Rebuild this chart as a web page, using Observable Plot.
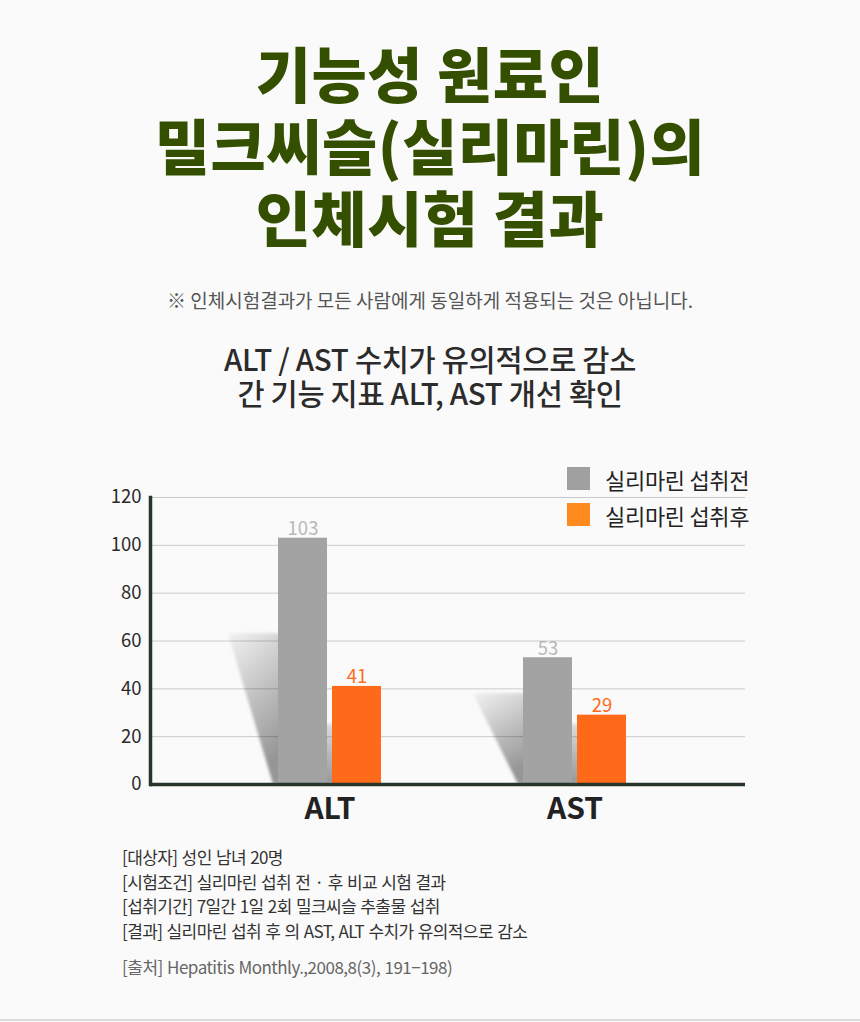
<!DOCTYPE html>
<html>
<head>
<meta charset="utf-8">
<script src="https://cdn.jsdelivr.net/npm/d3@7"></script>
<script src="https://cdn.jsdelivr.net/npm/@observablehq/plot@0.6"></script>
<style>
  body { margin: 0; background: #fafafa; }
  #page { position: relative; width: 860px; height: 1022px; overflow: hidden; background: #fafafa;
    font-family: "Noto Sans CJK KR", "Noto Sans", sans-serif; }
  #page .bottomline { position: absolute; left: 0; right: 0; top: 1019px; height: 2px; background: #dcdcdc; }
  .title { position: absolute; left: 0; width: 860px; top: 36px; text-align: center; font-size: 60px;
    line-height: 72px; font-weight: 900; color: #344f00; letter-spacing: 0.5px; }
  .notice { position: absolute; left: 0; width: 860px; top: 288px; text-align: center; font-size: 19px;
    line-height: 24px; color: #555; letter-spacing: 0px; }
  .sub { position: absolute; left: 0; width: 860px; top: 341px; text-align: center; font-size: 29.5px;
    line-height: 34px; color: #2b2b2b; font-weight: 500; letter-spacing: -0.3px; }
  #legend { position: absolute; left: 567px; top: 467px; }
  #legend .item { display: flex; align-items: center; height: 23px; margin-bottom: 13px; }
  #legend .sw { width: 23px; height: 23px; margin-right: 15px; }
  #legend span { font-size: 22px; color: #222; letter-spacing: -0.3px; }
  #chart { position: absolute; left: 0; top: 460px; }
  .notes { position: absolute; left: 122px; top: 845px; font-size: 17px; line-height: 24.5px; color: #333;
    letter-spacing: -0.6px; word-spacing: 1px; }
  .source { position: absolute; left: 122px; top: 955px; font-size: 17px; line-height: 24px; color: #666;
    letter-spacing: -0.5px; word-spacing: 1px; }
</style>
</head>
<body>
<div id="page">
  <div class="title">기능성 원료인<br>밀크씨슬(실리마린)의<br>인체시험 결과</div>
  <div class="notice">※ 인체시험결과가 모든 사람에게 동일하게 적용되는 것은 아닙니다.</div>
  <div class="sub">ALT / AST 수치가 유의적으로 감소<br>간 기능 지표 ALT, AST 개선 확인</div>
  <div id="chart"></div>
  <div id="legend"></div>
  <div class="notes">
    [대상자] 성인 남녀 20명<br>
    [시험조건] 실리마린 섭취 전 · 후 비교 시험 결과<br>
    [섭취기간] 7일간 1일 2회 밀크씨슬 추출물 섭취<br>
    [결과] 실리마린 섭취 후 의 AST, ALT 수치가 유의적으로 감소
  </div>
  <div class="source">[출처] Hepatitis Monthly.,2008,8(3), 191−198)</div>
  <div class="bottomline"></div>
</div>
<script>
// data
const groups = ["ALT", "AST"];
const series = ["실리마린 섭취전", "실리마린 섭취후"];
const before = [103, 53];
const after = [41, 29];
const shadowBack = [63, 38];   // height of the slanted shadow behind the grey bar
const shadowGap = [25, 25];    // small shadow seen between the two bars
const yTicks = [0, 20, 40, 60, 80, 100, 120];

const gray = "#a3a3a3";
const orange = "#ff6a1a";
const legendColors = ["#a0a0a0", "#ff8a1e"];

const beforeRows = groups.map((g, i) => ({group: g, value: before[i]}));
const afterRows = groups.map((g, i) => ({group: g, value: after[i]}));
const shadowRows = groups.map((g, i) => ({group: g, back: shadowBack[i], gap: shadowGap[i]}));

// decorative shadows, placed through the plot's own scales
function shadows(index, scales) {
  const x = scales.x, y = scales.y;
  const bw = x.bandwidth ? x.bandwidth() : 103;
  const g = d3.create("svg:g");
  const defs = g.append("defs");
  const lg = defs.append("linearGradient").attr("id", "shGrad").attr("x1", 0).attr("y1", 0).attr("x2", 0.35).attr("y2", 1);
  lg.append("stop").attr("offset", "0%").attr("stop-color", "#000").attr("stop-opacity", 0.03);
  lg.append("stop").attr("offset", "100%").attr("stop-color", "#000").attr("stop-opacity", 0.4);
  const lg2 = defs.append("linearGradient").attr("id", "shGrad2").attr("x1", 0).attr("y1", 0).attr("x2", 0).attr("y2", 1);
  lg2.append("stop").attr("offset", "0%").attr("stop-color", "#000").attr("stop-opacity", 0.12);
  lg2.append("stop").attr("offset", "100%").attr("stop-color", "#000").attr("stop-opacity", 0.4);
  defs.append("filter").attr("id", "shBlur").append("feGaussianBlur").attr("stdDeviation", 1.6);
  const y0 = y(0);
  for (const d of shadowRows) {
    const gx = x(d.group);
    const top = y(d.back);
    g.append("polygon")
      .attr("points", [[gx - 50, top], [gx + 4, top], [gx + 4, y0], [gx - 5, y0]].map(p => p.join(",")).join(" "))
      .attr("fill", "url(#shGrad)")
      .attr("filter", "url(#shBlur)");
    g.append("rect")
      .attr("x", gx + bw / 2 - 10).attr("width", 16)
      .attr("y", y(d.gap)).attr("height", y0 - y(d.gap))
      .attr("fill", "url(#shGrad2)")
      .attr("filter", "url(#shBlur)");
  }
  return g.node();
}

const chart = Plot.plot({
  width: 860,
  height: 374,
  marginLeft: 150,
  marginRight: 115,
  marginTop: 37,
  marginBottom: 50,
  style: {background: "transparent", fontFamily: "'Noto Sans CJK KR', 'Noto Sans', sans-serif", color: "#333", overflow: "visible"},
  x: {domain: groups, paddingInner: 0.58, paddingOuter: 0.5, align: 0.52, label: null},
  y: {domain: [0, 120], label: null},
  marks: [
    Plot.gridY(yTicks, {stroke: "#cacaca", strokeOpacity: 1, strokeWidth: 1}),
    shadows,
    Plot.barY(beforeRows, {x: "group", y: "value", fill: gray, insetRight: 54}),
    Plot.barY(afterRows, {x: "group", y: "value", fill: orange, insetLeft: 54}),
    Plot.text(beforeRows, {x: "group", y: "value", text: d => String(d.value), dx: -27, dy: -3,
      lineAnchor: "bottom", fill: "#b8b8b8", fontSize: 18.5}),
    Plot.text(afterRows, {x: "group", y: "value", text: d => String(d.value), dx: 27, dy: -3,
      lineAnchor: "bottom", fill: orange, fontSize: 18.5}),
    Plot.ruleY([0], {stroke: "#28352a", strokeWidth: 3.5}),
    Plot.frame({anchor: "left", stroke: "#28352a", strokeWidth: 3.5}),
    Plot.axisY(yTicks, {tickSize: 0, tickPadding: 9, fontSize: 18.5, fill: "#2a2a2a", label: null}),
    Plot.axisX({tickSize: 0, tickPadding: 13, fontSize: 30, fontWeight: 700, fill: "#222", label: null})
  ]
});
document.getElementById("chart").append(chart);

// legend
const legend = d3.select("#legend");
series.forEach((s, i) => {
  const item = legend.append("div").attr("class", "item");
  item.append("div").attr("class", "sw").style("background", legendColors[i]);
  item.append("span").text(s);
});
</script>
</body>
</html>
